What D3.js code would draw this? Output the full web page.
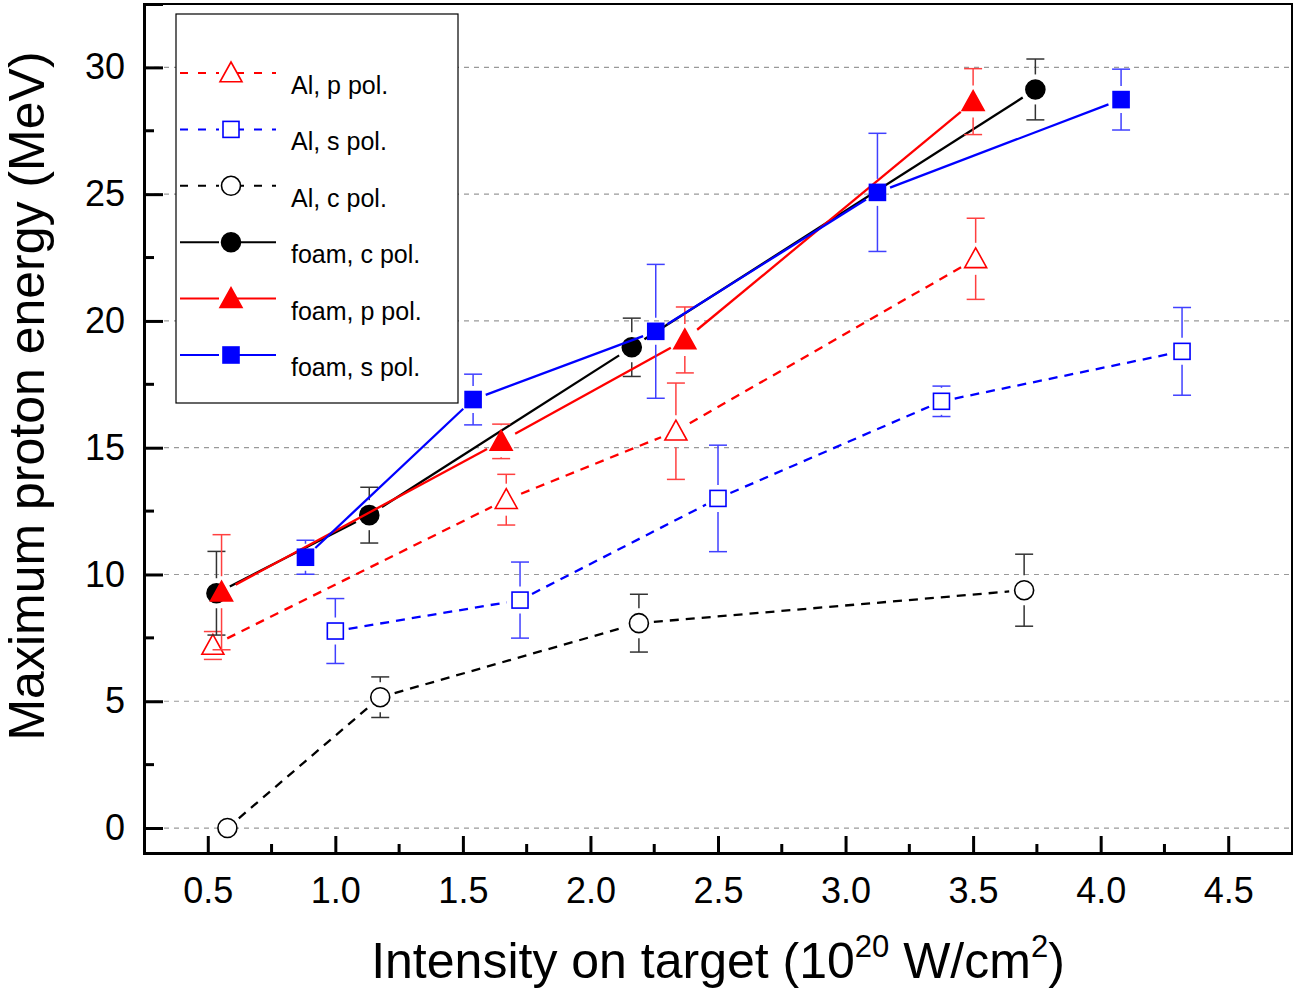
<!DOCTYPE html>
<html>
<head>
<meta charset="utf-8">
<script src="https://cdn.jsdelivr.net/npm/d3@7"></script>
<style>
  body { margin: 0; background: #fff; }
  text { font-family: "Liberation Sans", Arial, sans-serif; }
</style>
</head>
<body>
<div id="chart"></div>
<script>
// data: [intensity, energy, error]
var alP = [[0.52, 7.2, 0.55], [1.67, 12.95, 1.0], [2.335, 15.65, 1.9], [3.51, 22.45, 1.6]];
var alS = [[1.0, 7.77, 1.28], [1.724, 8.99, 1.5], [2.5, 13.0, 2.1], [3.376, 16.83, 0.6], [4.319, 18.8, 1.73]];
var alC = [[0.577, 0.0, 0], [1.176, 5.16, 0.8], [2.19, 8.08, 1.14], [3.70, 9.38, 1.42]];
var foamC = [[0.534, 9.26, 1.65], [1.133, 12.34, 1.1], [2.162, 18.96, 1.15], [3.744, 29.13, 1.2]];
var foamP = [[0.554, 9.3, 2.27], [1.65, 15.25, 0.68], [2.37, 19.25, 1.3], [3.50, 28.65, 1.3]];
var foamS = [[0.883, 10.68, 0.67], [1.54, 16.9, 1.0], [2.256, 19.59, 2.64], [3.125, 25.07, 2.33], [4.08, 28.73, 1.2]];

var xTicks = [0.5, 1.0, 1.5, 2.0, 2.5, 3.0, 3.5, 4.0, 4.5];
var xMinor = [0.75, 1.25, 1.75, 2.25, 2.75, 3.25, 3.75, 4.25];
var yTicks = [0, 5, 10, 15, 20, 25, 30];
var yMinor = [2.5, 7.5, 12.5, 17.5, 22.5, 27.5];

var series = [
  { name: "Al, p pol.", data: alP, color: "#ff0000", err: "#ff4040", shape: "triangle", fill: false, dash: true },
  { name: "Al, s pol.", data: alS, color: "#0000ff", err: "#4040ff", shape: "square", fill: false, dash: true },
  { name: "Al, c pol.", data: alC, color: "#000000", err: "#333333", shape: "circle", fill: false, dash: true },
  { name: "foam, c pol.", data: foamC, color: "#000000", err: "#333333", shape: "circle", fill: true, dash: false },
  { name: "foam, p pol.", data: foamP, color: "#ff0000", err: "#ff4040", shape: "triangle", fill: true, dash: false },
  { name: "foam, s pol.", data: foamS, color: "#0000ff", err: "#4040ff", shape: "square", fill: true, dash: false }
];

var W = 1293, H = 991;
var margin = { top: 4, right: 1, bottom: 138, left: 144 };
var width = W - margin.left - margin.right,
    height = H - margin.top - margin.bottom;

var svg = d3.select("#chart").append("svg")
    .attr("width", W).attr("height", H);
var g = svg.append("g")
    .attr("transform", "translate(" + margin.left + "," + margin.top + ")");

var x = d3.scaleLinear().domain([0.25, 4.75]).range([0, width]);
var y = d3.scaleLinear().domain([-0.985, 32.5]).range([height, 0]);

// grid lines
g.selectAll(".grid").data(yTicks).enter().append("line")
    .attr("x1", 0).attr("x2", width)
    .attr("y1", function (d) { return y(d); }).attr("y2", function (d) { return y(d); })
    .style("stroke", "#999").style("stroke-width", 1.2).style("stroke-dasharray", "5,5");

// marker shapes
var markerSize = { circle: 10, square: 8.5, triangle: 11 };
function drawMarker(sel, s, cx, cy) {
  var fill = s.fill ? s.color : "#fff";
  if (s.shape === "circle") {
    sel.append("circle").attr("cx", cx).attr("cy", cy).attr("r", 9.5)
      .style("fill", fill).style("stroke", s.color).style("stroke-width", 1.6);
  } else if (s.shape === "square") {
    sel.append("rect").attr("x", cx - 8).attr("y", cy - 8).attr("width", 16).attr("height", 16)
      .style("fill", fill).style("stroke", s.color).style("stroke-width", 1.6);
  } else {
    var r = 11;
    var pts = [[cx, cy - r], [cx + r, cy + r * 0.8], [cx - r, cy + r * 0.8]];
    sel.append("path").attr("d", "M" + pts.join("L") + "Z")
      .style("fill", fill).style("stroke", s.color).style("stroke-width", 1.6);
  }
}

series.forEach(function (s) {
  var layer = g.append("g");
  var pts = s.data.map(function (d) { return [x(d[0]), y(d[1]), d[2]]; });
  var gap = markerSize[s.shape] + 5;

  // error bars with a gap around the marker
  pts.forEach(function (p) {
    if (!p[2]) return;
    var top = y(0) - y(p[2]);
    [[p[1] - top, p[1] - gap], [p[1] + top, p[1] + gap]].forEach(function (seg) {
      if (Math.abs(seg[0] - p[1]) > gap) {
        layer.append("line").attr("x1", p[0]).attr("x2", p[0])
          .attr("y1", seg[0]).attr("y2", seg[1])
          .style("stroke", s.err).style("stroke-width", 1.5);
      }
      layer.append("line").attr("x1", p[0] - 9).attr("x2", p[0] + 9)
        .attr("y1", seg[0]).attr("y2", seg[0])
        .style("stroke", s.err).style("stroke-width", 1.5);
    });
  });

  // connecting segments, shortened near markers
  for (var i = 0; i < pts.length - 1; i++) {
    var a = pts[i], b = pts[i + 1];
    var dx = b[0] - a[0], dy = b[1] - a[1], len = Math.sqrt(dx * dx + dy * dy);
    var ux = dx / len, uy = dy / len;
    layer.append("line")
      .attr("x1", a[0] + ux * gap).attr("y1", a[1] + uy * gap)
      .attr("x2", b[0] - ux * gap).attr("y2", b[1] - uy * gap)
      .style("stroke", s.color).style("stroke-width", 2.3)
      .style("stroke-dasharray", s.dash ? "9,7" : null);
  }

  pts.forEach(function (p) { drawMarker(layer, s, p[0], p[1]); });
});

// frame
g.append("rect").attr("x", 0).attr("y", 0).attr("width", width).attr("height", height)
    .style("fill", "none").style("stroke", "#000").style("stroke-width", 2);

// axes with inward ticks
var xAxis = g.append("g").attr("transform", "translate(0," + height + ")")
    .call(d3.axisBottom(x).tickValues(xTicks).tickSize(-17).tickPadding(24)
      .tickFormat(d3.format(".1f")));
xAxis.append("g").selectAll("line").data(xMinor).enter().append("line")
    .attr("x1", function (d) { return x(d); }).attr("x2", function (d) { return x(d); })
    .attr("y1", 0).attr("y2", -9).style("stroke", "#000").style("stroke-width", 3);

var yAxis = g.append("g")
    .call(d3.axisLeft(y).tickValues(yTicks).tickSize(-19).tickPadding(19));
yAxis.append("g").selectAll("line").data(yMinor).enter().append("line")
    .attr("y1", function (d) { return y(d); }).attr("y2", function (d) { return y(d); })
    .attr("x1", 0).attr("x2", 10).style("stroke", "#000").style("stroke-width", 3);

[xAxis, yAxis].forEach(function (ax) {
  ax.select(".domain").style("stroke-width", 3).style("stroke", "#000");
  ax.selectAll(".tick line").style("stroke-width", 3);
  ax.selectAll(".tick text").style("font-size", "36px")
    .style("font-family", "'Liberation Sans', Arial, sans-serif").style("fill", "#000");
});

// axis titles
var xt = svg.append("text").attr("x", 718).attr("y", 978)
    .attr("text-anchor", "middle").style("font-size", "50px");
xt.append("tspan").text("Intensity on target (10");
xt.append("tspan").attr("dy", -21).style("font-size", "31px").text("20");
xt.append("tspan").attr("dy", 21).text(" W/cm");
xt.append("tspan").attr("dy", -21).style("font-size", "31px").text("2");
xt.append("tspan").attr("dy", 21).text(")");

svg.append("text")
    .attr("transform", "translate(44,396) rotate(-90)")
    .attr("text-anchor", "middle").style("font-size", "50px")
    .text("Maximum proton energy (MeV)");

// legend
var lg = svg.append("g").attr("transform", "translate(176,14)");
lg.append("rect").attr("width", 282).attr("height", 389)
    .style("fill", "#fff").style("stroke", "#000").style("stroke-width", 1.2);
series.forEach(function (s, i) {
  var cy = 59 + i * 56.4;
  var row = lg.append("g");
  [[4, 43], [60, 100]].forEach(function (seg) {
    row.append("line").attr("x1", seg[0]).attr("x2", seg[1]).attr("y1", cy).attr("y2", cy)
      .style("stroke", s.color).style("stroke-width", 2)
      .style("stroke-dasharray", s.dash ? "8,10" : null);
  });
  drawMarker(row, s, 55, cy);
  row.append("text").attr("x", 115).attr("y", cy + 21).style("font-size", "25px").text(s.name);
});
</script>
</body>
</html>
